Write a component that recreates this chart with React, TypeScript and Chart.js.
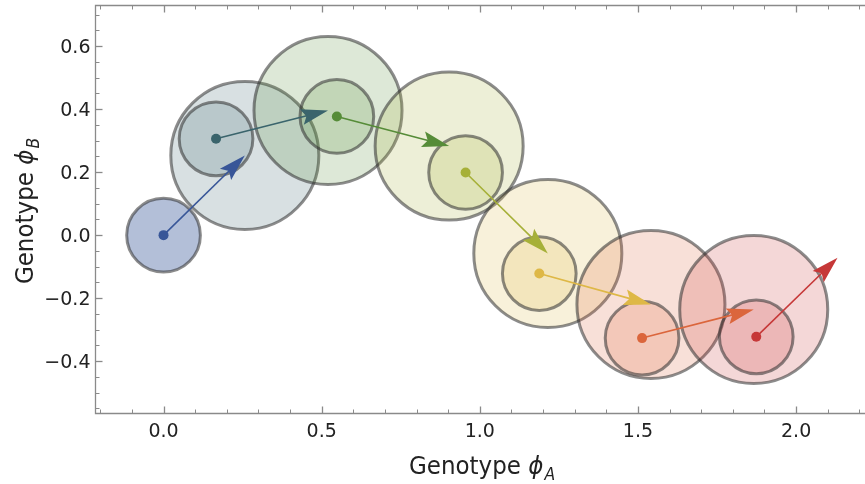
import React, { useEffect, useRef } from "react";
import { Chart, registerables } from "chart.js";

Chart.register(...registerables);

// ---- data ----
const genotypeX = [0, 0.166, 0.548, 0.955, 1.188, 1.513, 1.874];
const genotypeY = [0, 0.306, 0.377, 0.199, -0.122, -0.327, -0.323];
// predicted distributions for steps 2..7
const predictedX = [0.257, 0.52, 0.903, 1.215, 1.541, 1.866];
const predictedY = [0.253, 0.396, 0.283, -0.058, -0.22, -0.236];
const predictedR = [0.234, 0.234, 0.234, 0.234, 0.234, 0.234];
const sampledR = [0.1165, 0.1165, 0.1165, 0.1165, 0.1165, 0.1165, 0.1165];
const sampledAlpha = [0.38, 0.2, 0.2, 0.2, 0.2, 0.2, 0.2];
const arrowTipX = [0.257, 0.52, 0.903, 1.215, 1.541, 1.866, 2.131];
const arrowTipY = [0.253, 0.396, 0.283, -0.058, -0.22, -0.236, -0.072];
const stepColors = [
  [56, 86, 152],
  [58, 100, 108],
  [86, 140, 56],
  [166, 176, 56],
  [222, 184, 70],
  [219, 102, 60],
  [198, 56, 56],
];
const xMajorTicks = [0, 0.5, 1, 1.5, 2];
const xTickLabels = ["0.0", "0.5", "1.0", "1.5", "2.0"];
const yMajorTicks = [-0.4, -0.2, 0, 0.2, 0.4, 0.6];
const yTickLabels = ["\u22120.4", "\u22120.2", "0.0", "0.2", "0.4", "0.6"];
const X_MIN = -0.2167;
const X_MAX = 2.202;
const Y_MIN = -0.5649;
const Y_MAX = 0.7309;
const X_TITLE = ["Genotype ", "\u03D5", "A"];
const Y_TITLE = ["Genotype ", "\u03D5", "B"];

const rgba = (c: number[], a: number) => `rgba(${c[0]},${c[1]},${c[2]},${a})`;
const EDGE = "rgba(45,45,45,0.55)";
const FRAME = "#8a8a8a";
const TEXT = "#222";
const TICK_FONT = '19px "DejaVu Sans"';
const TITLE_FAMILY = '"DejaVu Sans"';
const TITLE_SIZE = 23;

function radiusPx(chart: any, r: number) {
  const s = chart.scales.x;
  if (!s) return 0;
  return Math.abs(s.getPixelForValue(r) - s.getPixelForValue(0));
}

function drawTitle(ctx: CanvasRenderingContext2D, parts: string[], cx: number, baseline: number) {
  const size = TITLE_SIZE;
  const subSize = size * 0.68;
  ctx.save();
  ctx.translate(cx, baseline);
  ctx.scale(1, 1.1);
  ctx.font = `${size}px ${TITLE_FAMILY}`;
  const w1 = ctx.measureText(parts[0]).width;
  ctx.font = `italic ${size}px ${TITLE_FAMILY}`;
  const w2 = ctx.measureText(parts[1]).width;
  ctx.font = `italic ${subSize}px ${TITLE_FAMILY}`;
  const w3 = ctx.measureText(parts[2]).width;
  const total = w1 + w2 + w3 + 1;
  let x = -total / 2;
  ctx.fillStyle = TEXT;
  ctx.textAlign = "left";
  ctx.textBaseline = "alphabetic";
  ctx.font = `${size}px ${TITLE_FAMILY}`;
  ctx.fillText(parts[0], x, 0);
  x += w1;
  ctx.font = `italic ${size}px ${TITLE_FAMILY}`;
  ctx.fillText(parts[1], x, 0);
  x += w2 + 1;
  ctx.font = `italic ${subSize}px ${TITLE_FAMILY}`;
  ctx.fillText(parts[2], x, size * 0.22);
  ctx.restore();
}

const arrowPlugin = {
  id: "arrows",
  afterDatasetDraw(chart: any, args: any) {
    if (args.index !== 1) return;
    const { ctx } = chart;
    const xs = chart.scales.x;
    const ys = chart.scales.y;
    ctx.save();
    for (let i = 0; i < genotypeX.length; i++) {
      const x0 = xs.getPixelForValue(genotypeX[i]);
      const y0 = ys.getPixelForValue(genotypeY[i]);
      const x1 = xs.getPixelForValue(arrowTipX[i]);
      const y1 = ys.getPixelForValue(arrowTipY[i]);
      const dx = x1 - x0;
      const dy = y1 - y0;
      const len = Math.hypot(dx, dy);
      const ux = dx / len;
      const uy = dy / len;
      const px = -uy;
      const py = ux;
      const L = 27;
      const W = 8;
      const col = rgba(stepColors[i], 1);
      ctx.strokeStyle = col;
      ctx.fillStyle = col;
      ctx.lineWidth = 1.6;
      ctx.beginPath();
      ctx.moveTo(x0, y0);
      ctx.lineTo(x1 - ux * L * 0.7, y1 - uy * L * 0.7);
      ctx.stroke();
      ctx.beginPath();
      ctx.moveTo(x1, y1);
      ctx.lineTo(x1 - ux * L + px * W, y1 - uy * L + py * W);
      ctx.lineTo(x1 - ux * L * 0.82, y1 - uy * L * 0.82);
      ctx.lineTo(x1 - ux * L - px * W, y1 - uy * L - py * W);
      ctx.closePath();
      ctx.fill();
    }
    ctx.restore();
  },
};

const framePlugin = {
  id: "frame",
  afterDraw(chart: any) {
    const { ctx, chartArea } = chart;
    const xs = chart.scales.x;
    const ys = chart.scales.y;
    const left = Math.round(chartArea.left) + 0.5;
    const top = Math.round(chartArea.top) + 0.5;
    const bottom = Math.round(chartArea.bottom) + 0.5;
    const right = chart.width;
    ctx.save();
    ctx.strokeStyle = FRAME;
    ctx.lineWidth = 1.3;
    ctx.beginPath();
    ctx.moveTo(right, top);
    ctx.lineTo(left, top);
    ctx.lineTo(left, bottom);
    ctx.lineTo(right, bottom);
    ctx.stroke();
    // x ticks (minor every 0.1)
    for (let k = -2; k <= 22; k++) {
      const v = k / 10;
      const px = Math.round(xs.getPixelForValue(v)) + 0.5;
      if (px < left || px > right) continue;
      const major = k % 5 === 0;
      const tl = major ? 7 : 4;
      ctx.lineWidth = major ? 1.3 : 1;
      ctx.beginPath();
      ctx.moveTo(px, bottom);
      ctx.lineTo(px, bottom - tl);
      ctx.moveTo(px, top);
      ctx.lineTo(px, top + tl);
      ctx.stroke();
    }
    // y ticks (minor every 0.05)
    for (let k = -11; k <= 14; k++) {
      const v = k / 20;
      const py = Math.round(ys.getPixelForValue(v)) + 0.5;
      if (py < top || py > bottom) continue;
      const major = k % 4 === 0;
      const tl = major ? 7 : 4;
      ctx.lineWidth = major ? 1.3 : 1;
      ctx.beginPath();
      ctx.moveTo(left, py);
      ctx.lineTo(left + tl, py);
      ctx.stroke();
    }
    // tick labels
    ctx.fillStyle = TEXT;
    ctx.font = TICK_FONT;
    ctx.textBaseline = "alphabetic";
    ctx.textAlign = "center";
    xMajorTicks.forEach((v, i) => {
      ctx.fillText(xTickLabels[i], xs.getPixelForValue(v), bottom + 23);
    });
    ctx.textAlign = "right";
    yMajorTicks.forEach((v, i) => {
      ctx.fillText(yTickLabels[i], left - 5, ys.getPixelForValue(v) + 7);
    });
    // axis titles
    drawTitle(ctx, X_TITLE, 482, 474);
    ctx.save();
    ctx.translate(33, 211);
    ctx.rotate(-Math.PI / 2);
    drawTitle(ctx, Y_TITLE, 0, 0);
    ctx.restore();
    ctx.restore();
  },
};

export default function App() {
  const ref = useRef<HTMLCanvasElement>(null);
  useEffect(() => {
    const canvas = ref.current;
    if (!canvas) return;
    const chart = new Chart(canvas, {
      type: "scatter",
      data: {
        datasets: [
          {
            label: "predicted",
            data: predictedX.map((x, i) => ({ x, y: predictedY[i] })),
            pointRadius: (c: any) => radiusPx(c.chart, predictedR[c.dataIndex]),
            pointHoverRadius: (c: any) => radiusPx(c.chart, predictedR[c.dataIndex]),
            pointBackgroundColor: stepColors.slice(1).map((c) => rgba(c, 0.2)),
            pointBorderColor: EDGE,
            pointBorderWidth: 3,
            order: 3,
          },
          {
            label: "sampled",
            data: genotypeX.map((x, i) => ({ x, y: genotypeY[i] })),
            pointRadius: (c: any) => radiusPx(c.chart, sampledR[c.dataIndex]),
            pointHoverRadius: (c: any) => radiusPx(c.chart, sampledR[c.dataIndex]),
            pointBackgroundColor: stepColors.map((c, i) => rgba(c, sampledAlpha[i])),
            pointBorderColor: EDGE,
            pointBorderWidth: 3,
            order: 2,
          },
          {
            label: "genotype",
            data: genotypeX.map((x, i) => ({ x, y: genotypeY[i] })),
            pointRadius: 5,
            pointHoverRadius: 5,
            pointBackgroundColor: stepColors.map((c) => rgba(c, 1)),
            pointBorderWidth: 0,
            order: 1,
          },
        ],
      } as any,
      options: {
        animation: false,
        responsive: false,
        maintainAspectRatio: false,
        events: [],
        layout: { padding: { left: 95, top: 2, right: 0, bottom: 71 } },
        plugins: { legend: { display: false }, tooltip: { enabled: false } },
        scales: {
          x: { type: "linear", min: X_MIN, max: X_MAX, display: false },
          y: { type: "linear", min: Y_MIN, max: Y_MAX, display: false },
        },
      } as any,
      plugins: [arrowPlugin, framePlugin],
    });
    return () => chart.destroy();
  }, []);
  return (
    <div style={{ position: "fixed", left: 0, top: 0, width: 865, height: 484, background: "#fff" }}>
      <canvas ref={ref} width={865} height={484} style={{ display: "block", width: 865, height: 484 }} />
    </div>
  );
}
